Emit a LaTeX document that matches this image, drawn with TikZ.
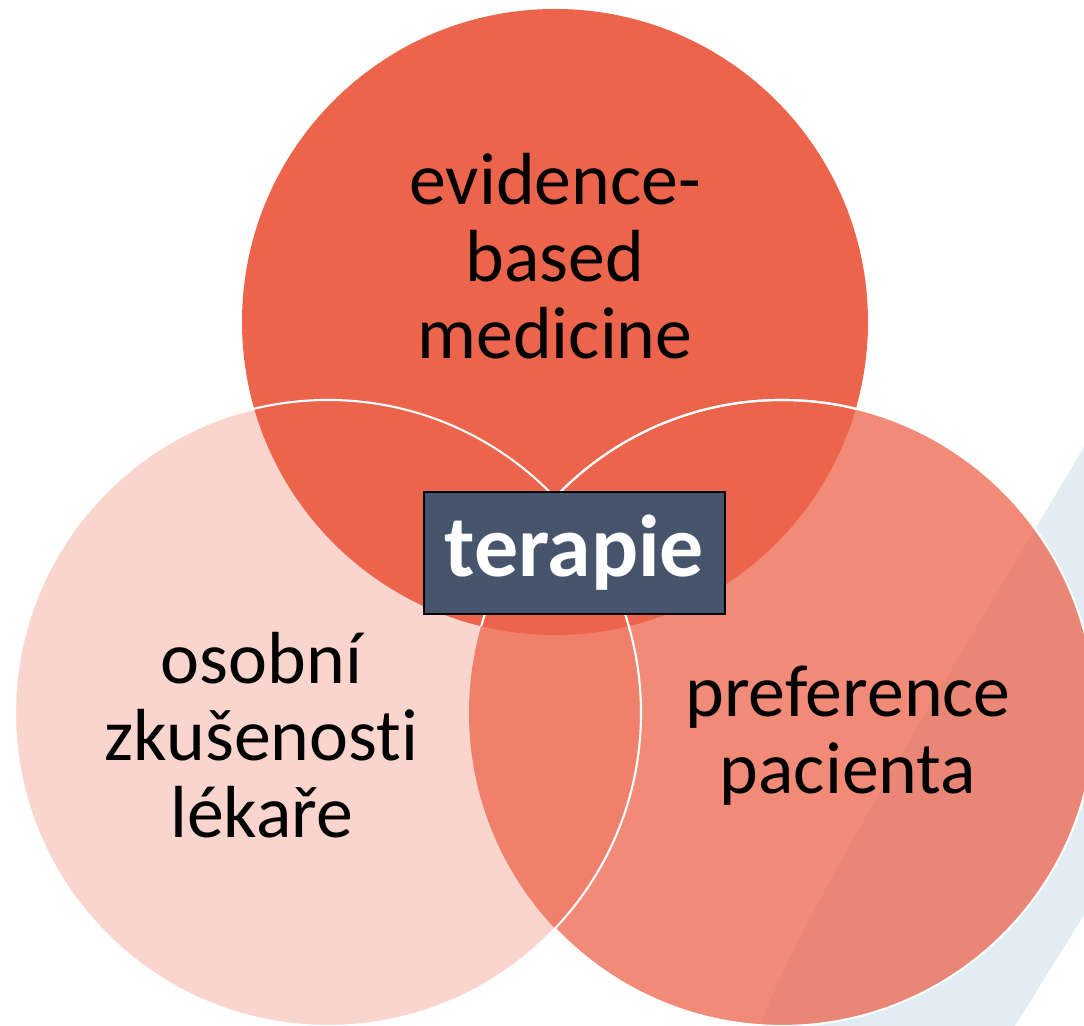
\documentclass[tikz,border=0pt]{standalone}
\usepackage{fontspec}
\setmainfont{Carlito}[Ligatures=NoCommon]
\usetikzlibrary{positioning}
\definecolor{vennred}{RGB}{236,100,75}
\definecolor{boxslate}{RGB}{70,85,108}
\definecolor{bandblue}{RGB}{225,236,243}

\begin{document}
\begin{tikzpicture}[
    lbl/.style={align=center,text=black,font=\fontsize{21}{22}\selectfont},
    rim/.style={draw=white,line width=0.6pt},
    hub/.style={draw=black,line width=0.6pt,fill=boxslate,text=white,
      minimum width=3.01cm,minimum height=1.22cm,
      font=\bfseries\fontsize{25}{30}\selectfont}
  ]
  \useasboundingbox (0,0) rectangle (10.84,10.26);

  % background band
  \fill[bandblue] (10.84,5.79) .. controls (9.6,3.7) and (8.0,1.1) .. (7.6,0)
    -- (10.15,0) -- (10.84,1.11) -- cycle;

  \coordinate (cebm) at (5.55,7.04);
  \coordinate (cosob) at (3.28,3.13);
  \coordinate (cpref) at (7.82,3.13);

  \fill[vennred,opacity=0.27] (cosob) circle (3.13);
  \fill[vennred,opacity=0.75] (cpref) circle (3.13);
  \fill[vennred] (cebm) circle (3.13);

  \draw[rim] (cosob) circle (3.13);
  \begin{scope}
    \clip (cebm) circle (3.13);
    \draw[rim] (cpref) circle (3.13);
  \end{scope}
  \begin{scope}
    % clockwise frame minus the left circle
    \clip (0,0) -- (0,10.26) -- (10.84,10.26) -- (10.84,0) -- cycle
      (cosob) circle (3.13);
    \draw[rim] (cpref) circle (3.13);
  \end{scope}

  \node[lbl] (ebm) at (5.55,7.70) {evidence-\\based\\medicine};
  \node[lbl] (osob) at (2.615,2.91) {osobní\\zkušenosti\\lékaře};
  \node[lbl] (pref) at (8.48,2.90) {preference\\pacienta};

  \node[hub] (ter) at (5.745,4.73) {terapie\hspace{0.12cm}};
\end{tikzpicture}
\end{document}
